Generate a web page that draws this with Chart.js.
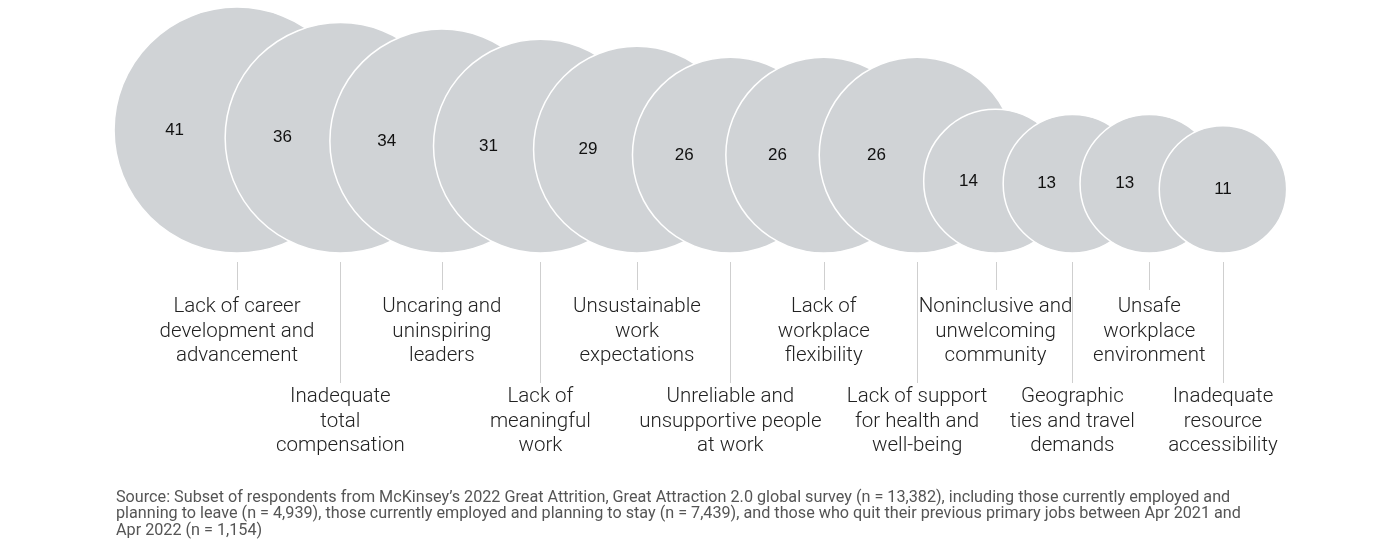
<!DOCTYPE html>
<html>
<head>
<meta charset="utf-8">
<script src="https://cdn.jsdelivr.net/npm/chart.js@4.4.1/dist/chart.umd.min.js"></script>
<style>
  html, body { margin: 0; padding: 0; background: #fff; }
  #wrap { position: relative; width: 1381px; height: 558px; }
</style>
</head>
<body>
<div id="wrap"><canvas id="bubbles" width="1381" height="558"></canvas></div>
<script>
// reasons for leaving, % of respondents
const values = [41, 36, 34, 31, 29, 26, 26, 26, 14, 13, 13, 11];
const categories = [
    ['Lack of career', 'development and', 'advancement'],
    ['Inadequate', 'total', 'compensation'],
    ['Uncaring and', 'uninspiring', 'leaders'],
    ['Lack of', 'meaningful', 'work'],
    ['Unsustainable', 'work', 'expectations'],
    ['Unreliable and', 'unsupportive people', 'at work'],
    ['Lack of', 'workplace', 'flexibility'],
    ['Lack of support', 'for health and', 'well-being'],
    ['Noninclusive and', 'unwelcoming', 'community'],
    ['Geographic', 'ties and travel', 'demands'],
    ['Unsafe', 'workplace', 'environment'],
    ['Inadequate', 'resource', 'accessibility']
];
const sourceLines = [
    'Source: Subset of respondents from McKinsey\u2019s 2022 Great Attrition, Great Attraction 2.0 global survey (n = 13,382), including those currently employed and',
    'planning to leave (n = 4,939), those currently employed and planning to stay (n = 7,439), and those who quit their previous primary jobs between Apr 2021 and',
    'Apr 2022 (n = 1,154)'
];

document.addEventListener('DOMContentLoaded', function(){
    const W = 1381, H = 558;
    const baseline = 253;     // bottoms of all circles line up here
    const firstX = 237;
    const rScale = 19.2;      // radius = k * sqrt(value), area proportional

    // pack circles left to right, each step grows with the circle size
    const radii = values.map(v => rScale * Math.sqrt(v));
    const xs = [];
    radii.forEach((r, i) => {
        xs.push(i === 0 ? firstX : xs[i - 1] + 37 + 0.576 * r);
    });

    const points = values.map((v, i) => ({ x: xs[i], y: baseline - radii[i], r: radii[i], v: v }));

    const labelsPlugin = {
        id: 'labels',
        afterDatasetsDraw(chart){
            const c = chart.ctx;
            const meta = chart.getDatasetMeta(0);
            c.save();

            // values inside the circles, centred on the visible part
            c.fillStyle = '#111';
            c.font = '17px "Liberation Sans", Arial, sans-serif';
            c.textAlign = 'center';
            c.textBaseline = 'middle';
            meta.data.forEach((el, i) => {
                const r = radii[i];
                let lx = el.x;
                if (i < meta.data.length - 1){
                    const left = el.x - r;
                    const nextLeft = meta.data[i + 1].x - radii[i + 1];
                    lx = Math.min(el.x, (left + nextLeft) / 2 + 5);
                }
                c.fillText(String(values[i]), lx, el.y);
            });

            // leader lines and category labels, alternating rows
            c.strokeStyle = '#cfcfcf';
            c.lineWidth = 1;
            c.font = '300 20.5px Roboto, "Liberation Sans", sans-serif';
            c.fillStyle = '#222';
            meta.data.forEach((el, i) => {
                const lower = i % 2 === 1;
                const x = Math.round(el.x) + 0.5;
                c.beginPath();
                c.moveTo(x, 262);
                c.lineTo(x, lower ? 383 : 290);
                c.stroke();
                const top = lower ? 397 : 307;
                categories[i].forEach((line, j) => {
                    c.fillText(line, el.x, top + j * 24.5);
                });
            });

            // source note
            c.fillStyle = '#555';
            c.font = '16.2px Roboto, "Liberation Sans", sans-serif';
            c.textAlign = 'left';
            sourceLines.forEach((line, j) => {
                c.fillText(line, 116, 498 + j * 16.4);
            });
            c.restore();
        }
    };

    new Chart(document.getElementById('bubbles').getContext('2d'), {
        type: 'bubble',
        data: {
            datasets: [{
                data: points,
                backgroundColor: '#d0d3d6',
                borderColor: '#ffffff',
                borderWidth: 1.5,
                hoverRadius: 0,
                hoverBorderWidth: 1.5,
                clip: false
            }]
        },
        options: {
            responsive: false,
            animation: false,
            events: [],
            layout: { padding: 0, autoPadding: false },
            scales: {
                x: { type: 'linear', min: 0, max: W, display: false },
                y: { type: 'linear', min: 0, max: H, reverse: true, display: false }
            },
            plugins: {
                legend: { display: false },
                tooltip: { enabled: false }
            }
        },
        plugins: [labelsPlugin]
    });
});
</script>
</body>
</html>
